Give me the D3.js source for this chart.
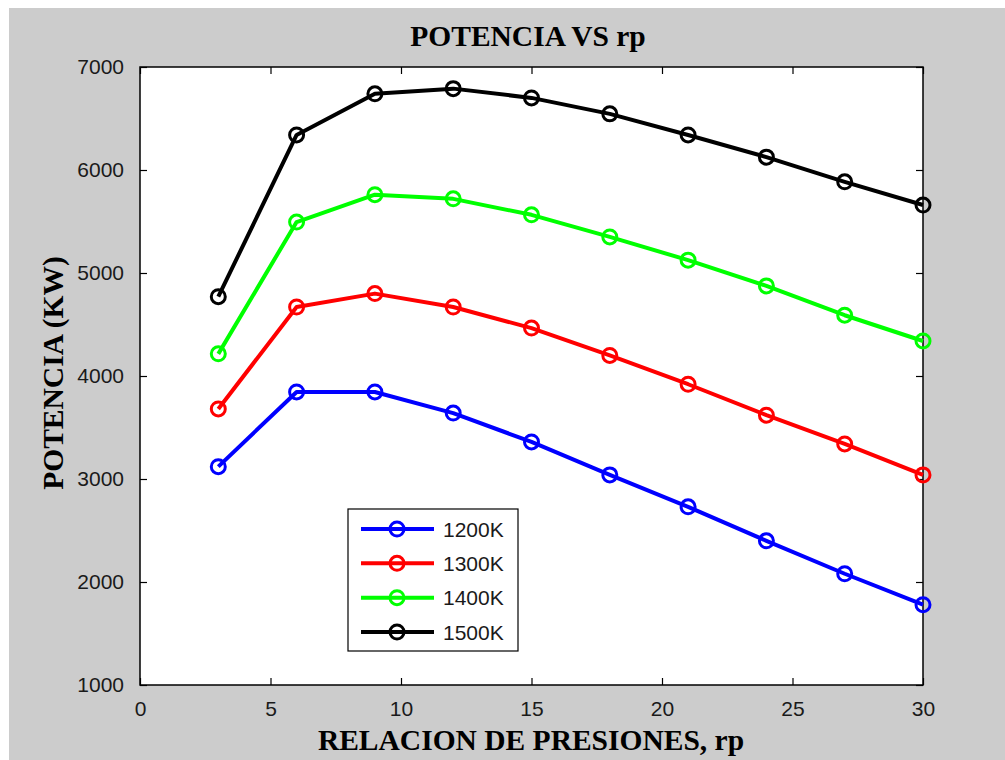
<!DOCTYPE html>
<html>
<head>
<meta charset="utf-8">
<script src="https://cdn.jsdelivr.net/npm/d3@7"></script>
<style>
  html, body { margin: 0; padding: 0; background: #ffffff; }
  svg { display: block; }
</style>
</head>
<body>
<svg id="chart" width="1005" height="760"></svg>
<script>
// Pressure ratio values (x axis)
const rp = [3, 6, 9, 12, 15, 18, 21, 24, 27, 30];

// Net power output (kW) for each turbine inlet temperature
const power1200 = [3120, 3845, 3845, 3640, 3360, 3040, 2730, 2400, 2080, 1780];
const power1300 = [3680, 4670, 4800, 4670, 4465, 4200, 3920, 3620, 3340, 3040];
const power1400 = [4215, 5495, 5760, 5720, 5565, 5350, 5125, 4875, 4590, 4340];
const power1500 = [4770, 6340, 6740, 6790, 6700, 6545, 6340, 6125, 5885, 5660];

const seriesNames = ["1200K", "1300K", "1400K", "1500K"];
const seriesColors = ["#0000ff", "#ff0000", "#00ff00", "#000000"];
const seriesValues = [power1200, power1300, power1400, power1500];

const xTicks = [0, 5, 10, 15, 20, 25, 30];
const yTicks = [1000, 2000, 3000, 4000, 5000, 6000, 7000];

const svg = d3.select("#chart");
const W = 1005, H = 760;
const plot = { left: 140, right: 923, top: 67, bottom: 685 };

// Figure background
svg.append("rect").attr("x", 9).attr("y", 8).attr("width", W - 9).attr("height", H - 8)
  .attr("fill", "#cccccc");

const x = d3.scaleLinear().domain([0, 30]).range([plot.left, plot.right]);
const y = d3.scaleLinear().domain([1000, 7000]).range([plot.bottom, plot.top]);

// Axes area
svg.append("rect")
  .attr("x", plot.left).attr("y", plot.top)
  .attr("width", plot.right - plot.left).attr("height", plot.bottom - plot.top)
  .attr("fill", "#ffffff");

const tickLen = 7;
const tickFont = "Liberation Sans, Arial, sans-serif";
const tickSize = 21;
const fmt = d3.format("d");

// Bottom axis with labels, inward ticks
const gx = svg.append("g").attr("transform", `translate(0,${plot.bottom})`)
  .call(d3.axisBottom(x).tickValues(xTicks).tickFormat(fmt)
    .tickSizeInner(-tickLen).tickSizeOuter(0).tickPadding(tickLen + 9));
// Top axis, ticks only
const gxt = svg.append("g").attr("transform", `translate(0,${plot.top})`)
  .call(d3.axisTop(x).tickValues(xTicks).tickSizeInner(-tickLen).tickSizeOuter(0).tickFormat(""));
// Left axis with labels
const gy = svg.append("g").attr("transform", `translate(${plot.left},0)`)
  .call(d3.axisLeft(y).tickValues(yTicks).tickFormat(fmt)
    .tickSizeInner(-tickLen).tickSizeOuter(0).tickPadding(tickLen + 9));
// Right axis, ticks only
const gyr = svg.append("g").attr("transform", `translate(${plot.right},0)`)
  .call(d3.axisRight(y).tickValues(yTicks).tickSizeInner(-tickLen).tickSizeOuter(0).tickFormat(""));

[gx, gxt, gy, gyr].forEach(g => {
  g.select(".domain").remove();
  g.selectAll(".tick line").attr("stroke", "#000").attr("stroke-width", 1.2);
  g.selectAll("text").attr("font-family", tickFont).attr("font-size", tickSize).attr("fill", "#1a1a1a");
});
gx.selectAll("text").attr("dy", "0.71em");

// Axes box
svg.append("rect")
  .attr("x", plot.left).attr("y", plot.top)
  .attr("width", plot.right - plot.left).attr("height", plot.bottom - plot.top)
  .attr("fill", "none").attr("stroke", "#000").attr("stroke-width", 1.5);

// Data lines and markers
const line = d3.line().x((d, i) => x(rp[i])).y(d => y(d));

seriesValues.forEach((vals, k) => {
  const g = svg.append("g");
  g.append("path").datum(vals)
    .attr("d", line)
    .attr("fill", "none")
    .attr("stroke", seriesColors[k])
    .attr("stroke-width", 4)
    .attr("stroke-linejoin", "round");
  g.selectAll("circle").data(vals).join("circle")
    .attr("cx", (d, i) => x(rp[i]))
    .attr("cy", d => y(d))
    .attr("r", 7)
    .attr("fill", "none")
    .attr("stroke", seriesColors[k])
    .attr("stroke-width", 3);
});

// Title and axis labels
const serif = "Liberation Serif, Times New Roman, serif";
const labelSize = 29.5;
svg.append("text").attr("x", 528).attr("y", 46)
  .attr("text-anchor", "middle").attr("font-family", serif)
  .attr("font-weight", "bold").attr("font-size", labelSize).attr("fill", "#000")
  .text("POTENCIA VS rp");

svg.append("text").attr("x", 531).attr("y", 750)
  .attr("text-anchor", "middle").attr("font-family", serif)
  .attr("font-weight", "bold").attr("font-size", labelSize).attr("fill", "#000")
  .text("RELACION DE PRESIONES, rp");

svg.append("text")
  .attr("transform", `translate(63,${(plot.top + plot.bottom) / 2 - 3}) rotate(-90)`)
  .attr("text-anchor", "middle").attr("font-family", serif)
  .attr("font-weight", "bold").attr("font-size", labelSize).attr("fill", "#000")
  .text("POTENCIA (KW)");

// Legend
const legend = { x: 348, y: 509, w: 170, h: 142 };
svg.append("rect")
  .attr("x", legend.x).attr("y", legend.y)
  .attr("width", legend.w).attr("height", legend.h)
  .attr("fill", "#ffffff").attr("stroke", "#000").attr("stroke-width", 1.2);

const legendY = d3.scalePoint().domain(seriesNames).range([legend.y + 20, legend.y + 123]);

seriesNames.forEach((name, k) => {
  const ly = legendY(name);
  svg.append("line")
    .attr("x1", legend.x + 13).attr("x2", legend.x + 86)
    .attr("y1", ly).attr("y2", ly)
    .attr("stroke", seriesColors[k]).attr("stroke-width", 4);
  svg.append("circle")
    .attr("cx", legend.x + 49).attr("cy", ly).attr("r", 7)
    .attr("fill", "none").attr("stroke", seriesColors[k]).attr("stroke-width", 3);
  svg.append("text")
    .attr("x", legend.x + 95).attr("y", ly).attr("dy", "0.36em")
    .attr("font-family", tickFont).attr("font-size", tickSize).attr("fill", "#1a1a1a")
    .text(name);
});
</script>
</body>
</html>
